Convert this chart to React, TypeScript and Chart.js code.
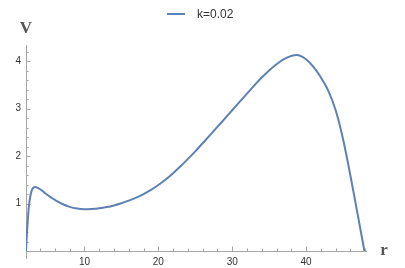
import React, { useEffect, useRef } from 'react';
import { Chart, registerables } from 'chart.js';

Chart.register(...registerables);

const seriesLabel = 'k=0.02';
const rValues = [2.087, 2.2, 2.3, 2.4, 2.5, 2.65, 2.8, 3.0, 3.3, 3.6, 4.0, 4.5, 5, 5.5, 6, 7, 8, 9, 10, 11, 12, 13, 14, 15, 16, 17, 18, 19, 20, 21, 22, 23, 24, 25, 26, 27, 28, 29, 30, 31, 32, 33, 34, 35, 36, 37, 38, 39, 40, 41, 42, 43, 44, 45, 46, 47, 47.9];
const vValues = [0, 0.33, 0.58, 0.8, 0.97, 1.13, 1.24, 1.32, 1.35, 1.335, 1.3, 1.24, 1.18, 1.125, 1.075, 0.99, 0.93, 0.895, 0.88, 0.885, 0.9, 0.925, 0.96, 1.005, 1.06, 1.125, 1.2, 1.288, 1.39, 1.508, 1.64, 1.785, 1.94, 2.1, 2.27, 2.44, 2.615, 2.79, 2.965, 3.14, 3.315, 3.49, 3.655, 3.805, 3.935, 4.04, 4.11, 4.125, 4.04, 3.88, 3.66, 3.38, 2.97, 2.36, 1.59, 0.76, 0];
const xTickLabels = [10, 20, 30, 40];
const yTickLabels = [1, 2, 3, 4];
const xMinorStep = 2;
const yMinorStep = 0.2;
const xMin = 2.087;
const xMax = 48.25;
const yMin = 0;
const yMax = 4.34;

const lineColor = '#5E81B5';
const axisColor = '#a6a6a6';

const axesPlugin = {
  id: 'mmaAxes',
  beforeDatasetsDraw(chart: any) {
    const { ctx, chartArea, scales } = chart;
    const xs = scales.x;
    const ys = scales.y;
    const y0 = ys.getPixelForValue(0);
    const x0 = chartArea.left;
    ctx.save();
    ctx.strokeStyle = axisColor;
    ctx.lineWidth = 1;
    ctx.beginPath();
    ctx.moveTo(chartArea.left, Math.round(y0) + 0.5);
    ctx.lineTo(chartArea.right, Math.round(y0) + 0.5);
    ctx.moveTo(Math.round(x0) + 0.5, chartArea.top);
    ctx.lineTo(Math.round(x0) + 0.5, y0 + 8);
    ctx.stroke();
    ctx.beginPath();
    for (let v = Math.ceil(xMin / xMinorStep) * xMinorStep; v <= xMax; v += xMinorStep) {
      const px = Math.round(xs.getPixelForValue(v)) + 0.5;
      const major = xTickLabels.includes(Math.round(v));
      const len = major ? 4.5 : 2.5;
      ctx.moveTo(px, y0);
      ctx.lineTo(px, y0 - len);
    }
    for (let i = 1; i * yMinorStep <= yMax + 1e-9; i++) {
      const v = i * yMinorStep;
      const py = Math.round(ys.getPixelForValue(v)) + 0.5;
      const major = Math.abs(v - Math.round(v)) < 1e-6;
      const len = major ? 4.5 : 2.5;
      ctx.moveTo(x0, py);
      ctx.lineTo(x0 + len, py);
    }
    ctx.stroke();
    ctx.restore();
  },
  afterDraw(chart: any) {
    const { ctx } = chart;
    ctx.save();
    ctx.fillStyle = '#555';
    ctx.font = 'bold 17px "Liberation Serif", "DejaVu Serif", serif';
    ctx.textAlign = 'center';
    ctx.textBaseline = 'alphabetic';
    ctx.fillText('V', 26, 33);
    ctx.fillText('r', 384, 255);
    ctx.strokeStyle = lineColor;
    ctx.lineWidth = 2;
    ctx.beginPath();
    ctx.moveTo(167, 14);
    ctx.lineTo(185, 14);
    ctx.stroke();
    ctx.fillStyle = '#333';
    ctx.font = '12px "Liberation Sans", Arial, sans-serif';
    ctx.textAlign = 'left';
    ctx.textBaseline = 'middle';
    ctx.fillText(chart.data.datasets[0].label, 197, 14.5);
    ctx.restore();
  },
};

export default function App() {
  const ref = useRef<HTMLCanvasElement>(null);
  useEffect(() => {
    const chart = new Chart(ref.current as HTMLCanvasElement, {
      type: 'line',
      data: {
        datasets: [
          {
            label: seriesLabel,
            data: rValues.map((r, i) => ({ x: r, y: vValues[i] })),
            borderColor: lineColor,
            borderWidth: 2,
            pointRadius: 0,
            fill: false,
            tension: 0.4,
          },
        ],
      },
      options: {
        responsive: false,
        animation: false,
        devicePixelRatio: 1,
        layout: { padding: { top: 45, right: 38, left: 0, bottom: 0 } },
        plugins: { legend: { display: false }, tooltip: { enabled: false } },
        scales: {
          x: {
            type: 'linear',
            min: xMin,
            max: xMax,
            afterFit: (s: any) => { s.height = 17; },
            afterBuildTicks: (s: any) => { s.ticks = xTickLabels.map((v) => ({ value: v })); },
            grid: { display: false, drawTicks: false },
            border: { display: false },
            ticks: {
              padding: 5,
              color: '#333',
              font: { family: '"Liberation Sans", Arial, sans-serif', size: 10 },
              maxRotation: 0,
            },
          },
          y: {
            type: 'linear',
            min: yMin,
            max: yMax,
            afterFit: (s: any) => { s.width = 26; },
            afterBuildTicks: (s: any) => { s.ticks = yTickLabels.map((v) => ({ value: v })); },
            grid: { display: false, drawTicks: false },
            border: { display: false },
            ticks: {
              padding: 5,
              color: '#333',
              font: { family: '"Liberation Sans", Arial, sans-serif', size: 10 },
            },
          },
        },
      },
      plugins: [axesPlugin],
    } as any);
    return () => chart.destroy();
  }, []);
  return (
    <div style={{ position: 'fixed', left: 0, top: 0, width: 405, height: 268, background: '#fff' }}>
      <canvas ref={ref} width={405} height={268} style={{ display: 'block', width: 405, height: 268 }} />
    </div>
  );
}
